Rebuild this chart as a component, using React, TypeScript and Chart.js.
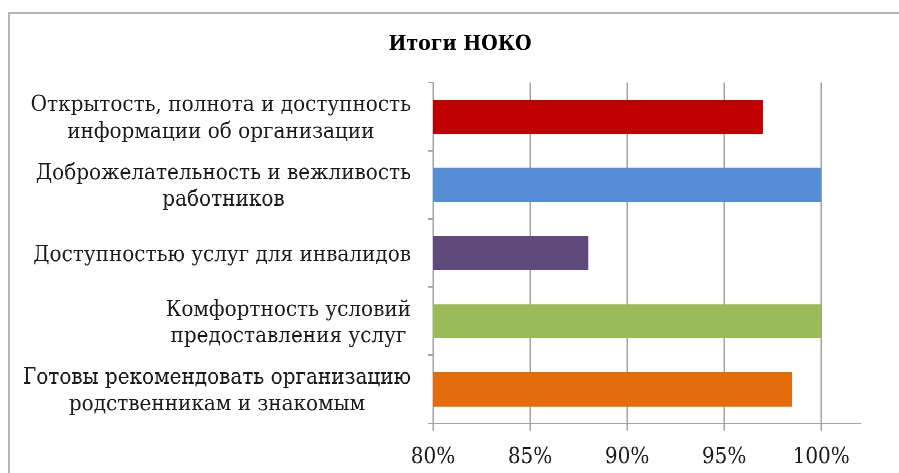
import React, { useEffect, useRef } from "react";
import { Chart, registerables } from "chart.js";

Chart.register(...registerables);

// The reference picture is slightly stretched vertically; the chart is drawn at
// reduced height and stretched back with CSS so the text has the same proportions.
const STRETCH = 1.12;

const titleText = "Итоги НОКО";
const categories: string[][] = [
  ["Открытость, полнота и доступность", "информации об организации"],
  ["Доброжелательность и вежливость", "работников"],
  ["Доступностью услуг для инвалидов"],
  ["Комфортность условий", "предоставления услуг"],
  ["Готовы рекомендовать организацию", "родственникам и знакомым"],
];
const values: number[] = [97, 100, 88, 100, 98.5];
const barColors: string[] = ["#C00000", "#558ED5", "#604A7B", "#9BBB59", "#E46C0A"];
const xTickValues: number[] = [80, 85, 90, 95, 100];
const xMin = 80;
const xMax = 102;

const LABEL_FONT = "20px 'DejaVu Serif'";
const LINE_H = 23.6;
const GRID = "#a3a3a3";

const blockLabels = {
  id: "blockLabels",
  afterDraw(chart: any) {
    const scale = chart.scales.y;
    const ctx = chart.ctx;
    ctx.save();
    ctx.font = LABEL_FONT;
    ctx.fillStyle = "#1a1a1a";
    ctx.textAlign = "center";
    ctx.textBaseline = "middle";
    const right = chart.chartArea.left - 22;
    categories.forEach((lines, i) => {
      const y = scale.getPixelForTick(i) + 1.6;
      const w = Math.max(...lines.map((l) => ctx.measureText(l).width));
      const cx = right - w / 2;
      const y0 = y - ((lines.length - 1) * LINE_H) / 2;
      lines.forEach((l, j) => ctx.fillText(l, cx, y0 + j * LINE_H));
    });
    ctx.restore();
  },
};

const frame = {
  id: "frame",
  beforeDraw(chart: any) {
    const ctx = chart.ctx;
    const top = 13 / STRETCH;
    ctx.save();
    ctx.fillStyle = "#fff";
    ctx.fillRect(0, 0, chart.width, chart.height);
    ctx.strokeStyle = "#b4b4b4";
    ctx.lineWidth = 2;
    ctx.beginPath();
    ctx.moveTo(9, top);
    ctx.lineTo(9, chart.height);
    ctx.stroke();
    ctx.lineWidth = 1.8;
    ctx.beginPath();
    ctx.moveTo(8, top);
    ctx.lineTo(chart.width, top);
    ctx.stroke();
    ctx.restore();
  },
};

export default function App() {
  const ref = useRef<HTMLCanvasElement | null>(null);

  useEffect(() => {
    if (!ref.current) return;
    const chart = new Chart(ref.current, {
      type: "bar",
      data: {
        labels: categories,
        datasets: [
          {
            data: values,
            backgroundColor: barColors,
            borderWidth: 0,
            barPercentage: 0.5,
            categoryPercentage: 1,
          },
        ],
      },
      plugins: [frame, blockLabels],
      options: {
        indexAxis: "y",
        animation: false,
        responsive: true,
        maintainAspectRatio: false,
        devicePixelRatio: 2,
        events: [],
        layout: { padding: { top: 10, right: 39, bottom: 0, left: 60 } },
        plugins: {
          legend: { display: false },
          tooltip: { enabled: false },
          title: {
            display: true,
            text: titleText,
            color: "#000",
            font: { family: "'DejaVu Serif'", size: 19, weight: "bold" },
            padding: { top: 18, bottom: 23 },
          },
        },
        scales: {
          x: {
            type: "linear",
            min: xMin,
            max: xMax,
            afterBuildTicks: (scale: any) => {
              scale.ticks = xTickValues.map((v) => ({ value: v }));
            },
            afterFit: (scale: any) => {
              scale.height = 473 / STRETCH - 423.5 / STRETCH;
            },
            ticks: {
              color: "#1a1a1a",
              font: { family: "'DejaVu Serif'", size: 20 },
              padding: 12,
              callback: (v: any) => `${v}%`,
            },
            grid: {
              color: GRID,
              lineWidth: 1.5,
              tickLength: 6.25,
              drawTicks: true,
            },
            border: { display: true, color: GRID, width: 1.4 },
          },
          y: {
            type: "category",
            afterFit: (scale: any) => {
              scale.width = 373;
            },
            ticks: { display: false },
            grid: {
              offset: true,
              drawOnChartArea: false,
              drawTicks: true,
              tickLength: 5,
              color: GRID,
              lineWidth: 1.4,
            },
            border: { display: true, color: GRID, width: 1.5 },
          },
        },
      },
    });
    return () => chart.destroy();
  }, []);

  return (
    <div
      style={{
        position: "absolute",
        left: 0,
        top: 0,
        width: 899,
        height: 473 / STRETCH,
        transform: `scaleY(${STRETCH})`,
        transformOrigin: "0 0",
        background: "#fff",
      }}
    >
      <canvas ref={ref} />
    </div>
  );
}
